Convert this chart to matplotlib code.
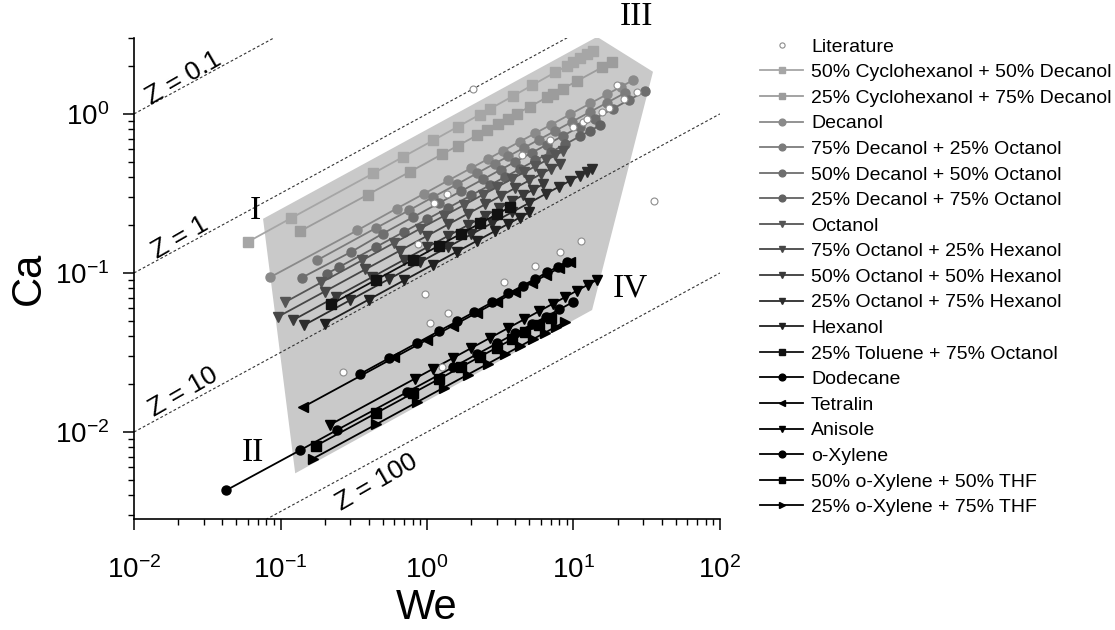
import numpy as np
import matplotlib.pyplot as plt
from matplotlib.patches import Polygon

plt.rcParams['font.family'] = ['Liberation Sans', 'DejaVu Sans']
plt.rcParams['mathtext.default'] = 'regular'
plt.rcParams['axes.unicode_minus'] = False

# Literature points (We, Ca)
lit_we = [2.06, 35.4, 11.2, 8.1, 5.46, 3.36, 1.39, 1.27, 0.267, 0.968, 1.05, 19.8,
          27.1, 22.1, 17.5, 15.7, 11.6, 12.3, 9.9, 6.92, 4.45, 1.37, 1.12, 0.869]
lit_ca = [1.44, 0.284, 0.159, 0.1355, 0.111, 0.0878, 0.056, 0.0256, 0.0238, 0.0738, 0.0485, 1.52,
          1.375, 1.24, 1.09, 1.03, 0.89, 0.93, 0.83, 0.686, 0.552, 0.314, 0.275, 0.152]

# Measured series
we_cyc50 = [0.060, 0.118, 0.428, 0.685, 1.10, 1.63, 2.30, 2.69, 3.86, 5.21, 7.48, 9.03, 9.93, 11.1, 12.4, 13.6]
ca_cyc50 = [0.157, 0.221, 0.422, 0.536, 0.681, 0.832, 0.991, 1.075, 1.293, 1.512, 1.823, 2.003, 2.115, 2.236, 2.379, 2.492]
we_cyc25 = [0.136, 0.395, 0.766, 1.26, 1.63, 2.19, 2.57, 3.05, 3.57, 4.11, 5.05, 6.59, 7.24, 8.47, 10.6, 15.7, 18.3]
ca_cyc25 = [0.183, 0.311, 0.433, 0.556, 0.632, 0.733, 0.794, 0.865, 0.935, 1.004, 1.112, 1.271, 1.332, 1.441, 1.612, 1.962, 2.118]
we_dec = [0.085, 0.333, 0.62, 0.95, 1.4, 2.0, 2.6, 3.3, 4.3, 5.5, 7.0, 9.5, 13, 17, 21, 25.5]
ca_dec = [0.094, 0.185, 0.254, 0.314, 0.382, 0.456, 0.520, 0.586, 0.669, 0.757, 0.853, 0.994, 1.163, 1.330, 1.478, 1.629]
we_dec75 = [0.177, 0.45, 0.75, 1.1, 1.6, 2.2, 2.9, 3.6, 4.6, 5.8, 7.5, 9.8, 13, 17, 22.5]
ca_dec75 = [0.120, 0.192, 0.247, 0.300, 0.361, 0.424, 0.487, 0.542, 0.613, 0.688, 0.782, 0.894, 1.030, 1.178, 1.355]
we_dec50 = [0.140, 0.303, 0.50, 0.8, 1.2, 1.7, 2.4, 3.2, 4.0, 5.2, 6.6, 8.5, 11, 14, 18.5, 24, 30.8]
ca_dec50 = [0.0935, 0.1355, 0.177, 0.224, 0.274, 0.326, 0.387, 0.447, 0.500, 0.570, 0.642, 0.729, 0.829, 0.935, 1.075, 1.225, 1.387]
we_dec25 = [0.207, 0.25, 0.45, 0.7, 1.0, 1.4, 2.0, 2.7, 3.4, 4.3, 5.5, 7.0, 8.8, 11, 13, 15.2]
ca_dec25 = [0.0989, 0.1087, 0.1458, 0.1819, 0.2174, 0.2572, 0.3074, 0.3572, 0.4008, 0.4508, 0.5098, 0.5752, 0.6449, 0.7210, 0.7838, 0.8475]
we_oct = [0.107, 0.19, 0.36, 0.6, 0.9, 1.3, 1.8, 2.4, 3.0, 3.8, 4.6, 5.5, 6.5, 7.5, 8.47]
ca_oct = [0.0654, 0.0872, 0.120, 0.155, 0.190, 0.228, 0.268, 0.310, 0.346, 0.390, 0.429, 0.469, 0.510, 0.548, 0.582]
we_oct75 = [0.096, 0.20, 0.38, 0.65, 1.0, 1.4, 1.9, 2.5, 3.2, 4.0, 5.0, 6.0, 7.0, 8.1]
ca_oct75 = [0.0530, 0.0764, 0.1054, 0.1378, 0.1709, 0.2023, 0.2356, 0.2703, 0.3058, 0.3419, 0.3822, 0.4187, 0.4523, 0.4865]
we_oct50 = [0.122, 0.24, 0.42, 0.7, 1.0, 1.4, 1.9, 2.5, 3.1, 3.8, 4.5, 5.3, 6.2]
ca_oct50 = [0.0506, 0.0710, 0.0939, 0.1213, 0.1449, 0.1715, 0.1998, 0.2291, 0.2552, 0.2825, 0.3074, 0.3337, 0.3609]
we_oct25 = [0.145, 0.30, 0.55, 0.9, 1.4, 2.0, 2.8, 3.8, 5.0, 6.5, 8.0, 9.5, 11, 12.3, 13.4]
ca_oct25 = [0.0470, 0.0676, 0.0916, 0.1171, 0.1461, 0.1746, 0.2066, 0.2407, 0.2761, 0.3148, 0.3492, 0.3805, 0.4095, 0.4330, 0.4519]
we_hex = [0.20, 0.40, 0.7, 1.1, 1.6, 2.2, 2.9, 3.6, 4.3, 5.0]
ca_hex = [0.0481, 0.0680, 0.0900, 0.1128, 0.1360, 0.1595, 0.1831, 0.2040, 0.2230, 0.2404]
we_tol = [0.221, 0.45, 0.8, 1.2, 1.7, 2.3, 3.0, 3.7]
ca_tol = [0.0635, 0.0907, 0.1209, 0.1480, 0.1762, 0.2049, 0.2341, 0.2599]
we_dod = [0.35, 0.55, 0.85, 1.2, 1.6, 2.1, 2.8, 3.6, 4.5, 5.5, 6.6, 7.8, 9.0]
ca_dod = [0.0232, 0.0291, 0.0362, 0.0430, 0.0496, 0.0568, 0.0656, 0.0744, 0.0832, 0.0920, 0.1007, 0.1095, 0.1176]
we_tet = [0.143, 0.6, 1.0, 1.5, 2.2, 3.0, 4.0, 5.2, 6.5, 8.0, 9.5]
ca_tet = [0.01438, 0.02945, 0.0380, 0.04657, 0.0564, 0.0659, 0.0760, 0.0867, 0.0969, 0.1075, 0.1172]
we_ani = [0.218, 0.83, 1.1, 1.5, 2.0, 2.7, 3.6, 4.6, 5.8, 7.2, 8.8, 10.5, 12.5, 14.5]
ca_ani = [0.01112, 0.02169, 0.02497, 0.02916, 0.03367, 0.03912, 0.04518, 0.05107, 0.05734, 0.06389, 0.07063, 0.07715, 0.08418, 0.09066]
we_xyl = [0.0425, 0.136, 0.243, 0.73, 1.5, 2.2, 3.0, 4.0, 5.2, 6.5, 8.0, 10.0]
ca_xyl = [0.00430, 0.00768, 0.0103, 0.0178, 0.02551, 0.03090, 0.03608, 0.04167, 0.04751, 0.05311, 0.05893, 0.06588]
we_xyl50 = [0.175, 0.45, 0.8, 1.2, 1.7, 2.3, 3.0, 3.8, 4.7, 5.8, 7.0]
ca_xyl50 = [0.00820, 0.01315, 0.01754, 0.02148, 0.02557, 0.02974, 0.03396, 0.03822, 0.04251, 0.04722, 0.05188]
we_xyl25 = [0.167, 0.45, 0.85, 1.3, 1.9, 2.6, 3.4, 4.3, 5.3, 6.4, 7.6, 8.75]
ca_xyl25 = [0.00681, 0.01118, 0.01537, 0.01900, 0.02297, 0.02687, 0.03073, 0.03456, 0.03837, 0.04216, 0.04595, 0.04930]

labels = ['50% Cyclohexanol + 50% Decanol', '25% Cyclohexanol + 75% Decanol', 'Decanol',
          '75% Decanol + 25% Octanol', '50% Decanol + 50% Octanol', '25% Decanol + 75% Octanol',
          'Octanol', '75% Octanol + 25% Hexanol', '50% Octanol + 50% Hexanol',
          '25% Octanol + 75% Hexanol', 'Hexanol', '25% Toluene + 75% Octanol', 'Dodecane',
          'Tetralin', 'Anisole', 'o-Xylene', '50% o-Xylene + 50% THF', '25% o-Xylene + 75% THF']
we_all = [we_cyc50, we_cyc25, we_dec, we_dec75, we_dec50, we_dec25, we_oct, we_oct75, we_oct50,
          we_oct25, we_hex, we_tol, we_dod, we_tet, we_ani, we_xyl, we_xyl50, we_xyl25]
ca_all = [ca_cyc50, ca_cyc25, ca_dec, ca_dec75, ca_dec50, ca_dec25, ca_oct, ca_oct75, ca_oct50,
          ca_oct25, ca_hex, ca_tol, ca_dod, ca_tet, ca_ani, ca_xyl, ca_xyl50, ca_xyl25]

colors = ['#a6a6a6', '#9c9c9c', '#8a8a8a', '#7c7c7c', '#6e6e6e', '#626262', '#555555', '#474747',
          '#3a3a3a', '#2c2c2c', '#202020', '#111111', 'black', 'black', 'black', 'black', 'black', 'black']
markers = ['s', 's', 'o', 'o', 'o', 'o', 'v', 'v', 'v', 'v', 'v', 's', 'o', '<', 'v', 'o', 's', '>']

# Z = Re / sqrt(We) reference lines
z_values = [0.1, 1, 10, 100]
z_label_pos = [(0.0216, 1.68), (0.0206, 0.166), (0.0216, 0.0179), (0.456, 0.00485)]

# Operating window polygon
poly_we = [0.076, 14.5, 34.9, 13.4, 0.126]
poly_ca = [0.219, 3.05, 1.84, 0.0585, 0.0055]

region_names = ['I', 'II', 'III', 'IV']
region_pos = [(0.067, 0.245), (0.065, 0.00738), (27.1, 4.07), (24.3, 0.0805)]

fig = plt.figure(figsize=(11.15, 6.3), dpi=100)
ax = fig.add_axes([0.1202, 0.1762, 0.5255, 0.7635])
ax.set_xscale('log')
ax.set_yscale('log')
ax.set_xlim(1e-2, 1e2)
ax.set_ylim(0.00284, 3.0)

ax.add_patch(Polygon(np.column_stack([poly_we, poly_ca]), closed=True,
                     facecolor='#c9c9c9', edgecolor='none', zorder=0))

we_line = np.array([1e-2, 1e2])
for z, (tx, ty) in zip(z_values, z_label_pos):
    ax.plot(we_line, np.sqrt(we_line) / z, color='#333333', lw=0.8,
            linestyle=(0, (2.5, 2)), zorder=1)
    ax.text(tx, ty, f'Z = {z:g}', rotation=30, fontsize=19, ha='center', va='center')

lit, = ax.plot(lit_we, lit_ca, 'o', ms=5, mfc='white', mec='#8c8c8c', mew=0.8,
               ls='none', label='Literature', zorder=5)

for we, ca, lab, c, m in zip(we_all, ca_all, labels, colors, markers):
    ax.plot(we, ca, marker=m, color=c, ms=6.5, lw=1.3, label=lab, zorder=3)

for name, (tx, ty) in zip(region_names, region_pos):
    ax.text(tx, ty, name, fontsize=24, family='Liberation Serif', ha='center', va='center',
            clip_on=False)

ax.spines['top'].set_visible(False)
ax.spines['right'].set_visible(False)
ax.spines['left'].set_linewidth(1.2)
ax.spines['bottom'].set_linewidth(1.2)
ax.tick_params(which='major', direction='out', length=8, width=1.1, labelsize=20)
ax.tick_params(axis='x', which='major', pad=19)
ax.tick_params(axis='y', which='major', pad=10)
ax.tick_params(which='minor', direction='out', length=4, width=1.0)
ax.set_xlabel('We', fontsize=30, labelpad=3)
ax.set_ylabel('Ca', fontsize=30, labelpad=4)

fig.legend(loc='upper left', bbox_to_anchor=(0.675, 0.952), frameon=False, fontsize=14,
           labelspacing=0.41, handlelength=2.2, handletextpad=0.4, borderaxespad=0,
           markerscale=0.75)

fig.savefig('out.png', dpi=100)
